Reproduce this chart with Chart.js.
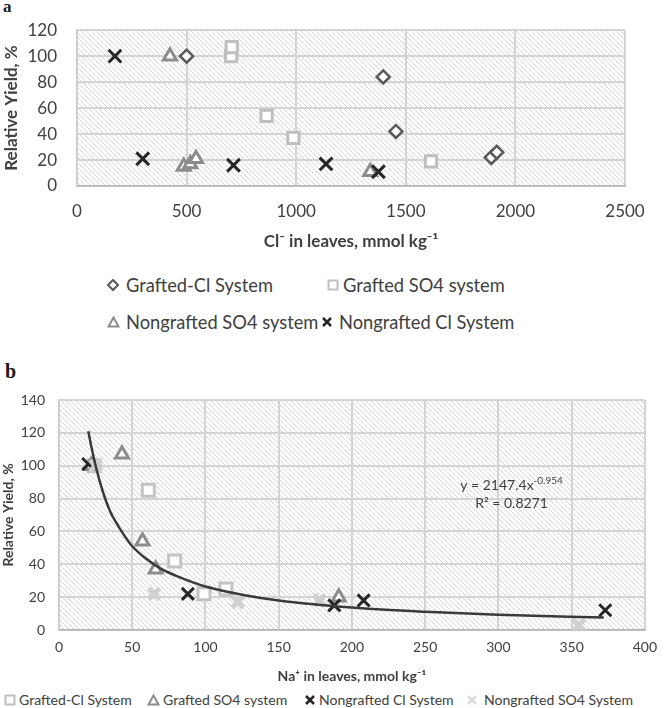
<!DOCTYPE html>
<html><head><meta charset="utf-8">
<script src="https://cdn.jsdelivr.net/npm/chart.js@4.4.0/dist/chart.umd.min.js"></script>
<style>
html,body{margin:0;padding:0;background:#fff;}
body{width:666px;height:708px;position:relative;overflow:hidden;font-family:Lato,sans-serif;}
canvas{position:absolute;left:0;}
#ca{top:0;}
#cb{top:340px;}
.lbl{position:absolute;font-family:"Liberation Serif",serif;font-weight:bold;color:#1a1a1a;line-height:1;}
.leg{position:absolute;display:flex;align-items:center;white-space:nowrap;color:#404040;font-family:Lato,sans-serif;line-height:1;}
.leg svg{flex:none;}
</style></head>
<body>
<div class="lbl" style="left:3px;top:-2px;font-size:17px;">a</div>
<canvas id="ca" width="666" height="262"></canvas>
<div id="legA"></div>
<div class="lbl" style="left:5px;top:361px;font-size:20px;">b</div>
<canvas id="cb" width="666" height="350"></canvas>
<div id="legB"></div>
<script>
// ---------- Chart a: Cl- in leaves vs relative yield ----------
const aTicksX = [0, 500, 1000, 1500, 2000, 2500];
const aTicksY = [0, 20, 40, 60, 80, 100, 120];
const aGraftedClX   = [500, 1397, 1455, 1890, 1915];
const aGraftedClY   = [100, 84, 42, 22, 26];
const aGraftedSO4X  = [703, 706, 865, 987, 1615];
const aGraftedSO4Y  = [100, 107, 54, 37, 19];
const aNongrSO4X    = [424, 487, 517, 543, 1338];
const aNongrSO4Y    = [100, 15, 17, 21, 11];
const aNongrClX     = [173, 300, 714, 1136, 1375];
const aNongrClY     = [100, 21, 16, 17, 11];

// ---------- Chart b: Na+ in leaves vs relative yield ----------
const bTicksX = [0, 50, 100, 150, 200, 250, 300, 350, 400];
const bTicksY = [0, 20, 40, 60, 80, 100, 120, 140];
const bGraftedClX   = [24, 61, 79, 99, 114];
const bGraftedClY   = [100, 85, 42, 22, 25];
const bGraftedSO4X  = [22, 43, 57, 66, 191];
const bGraftedSO4Y  = [100, 107, 54, 37, 20];
const bNongrClX     = [20, 88, 188, 208, 373];
const bNongrClY     = [101, 22, 15, 18, 12];
const bNongrSO4X    = [25, 65, 122, 178, 355];
const bNongrSO4Y    = [100, 22, 17, 18, 3];
// power trendline (y = 2147.4x^-0.954)
const bTrendX = [20, 22, 25, 30, 35, 40, 45, 50, 60, 70, 80, 100, 125, 150, 200, 250, 300, 372];
const bTrendY = [121, 112, 100, 84, 72, 64, 57, 51, 43, 37, 33, 26.5, 21.5, 18, 13.7, 11.1, 9.3, 7.6];
const bEquation = 'y = 2147.4x';
const bEquationExp = '-0.954';
const bRSquared = 'R² = 0.8271';

const legendA = ['Grafted-Cl System', 'Grafted SO4 system', 'Nongrafted SO4 system', 'Nongrafted Cl System'];
const legendB = ['Grafted-Cl System', 'Grafted SO4 system', 'Nongrafted Cl System', 'Nongrafted SO4 System'];

function pts(xs, ys){ return xs.map((x,i)=>({x:x, y:ys[i]})); }

// hatch background
function makeHatch(){
  const n=5, c=document.createElement('canvas'); c.width=n; c.height=n;
  const g=c.getContext('2d'); const id=g.createImageData(n,n);
  for(let y=0;y<n;y++)for(let x=0;x<n;x++){
    const d=(((x-y)%n)+n)%n; const i=(y*n+x)*4;
    const v = d===0 ? 218 : 255;
    id.data[i]=v;id.data[i+1]=v;id.data[i+2]=v;id.data[i+3]=255;
  }
  g.putImageData(id,0,0); return c;
}
const hatchCanvas = makeHatch();
const hatchPlugin = {
  id:'hatch',
  beforeDraw(chart){
    const {ctx, chartArea:a} = chart;
    ctx.save();
    ctx.fillStyle = ctx.createPattern(hatchCanvas,'repeat');
    ctx.fillRect(a.left, a.top, a.right-a.left, a.bottom-a.top);
    ctx.restore();
  }
};

const GRID = '#d4d4d4', TXT = '#404040';
function axis(o){
  return {
    type:'linear', min:o.min, max:o.max,
    afterBuildTicks(s){ s.ticks = o.ticks.map(v=>({value:v})); },
    ticks:{padding:o.pad, color:TXT, font:{family:'Lato', size:o.fs}, callback:v=>String(v)},
    grid:{color:GRID, lineWidth:2, drawTicks:false},
    border:{display:true, color:o.bc, width:1.5},
    title:{display:true, text:o.title, color:TXT, font:{family:'Lato', size:o.tfs, weight:'bold'}, padding:o.tpad},
    afterFit:o.fit
  };
}

Chart.defaults.font.family = 'Lato';

new Chart(document.getElementById('ca'), {
  type:'scatter',
  data:{datasets:[
    {label:legendA[3], data:pts(aNongrClX,aNongrClY), pointStyle:'crossRot', pointRadius:9, pointBorderColor:'#262626', pointBorderWidth:3, order:0},
    {label:legendA[2], data:pts(aNongrSO4X,aNongrSO4Y), pointStyle:'triangle', pointRadius:7.5, pointBorderColor:'#8c8c8c', pointBackgroundColor:'#fff', pointBorderWidth:3, order:1},
    {label:legendA[1], data:pts(aGraftedSO4X,aGraftedSO4Y), pointStyle:'rect', pointRadius:8, pointBorderColor:'#bfbfbf', pointBackgroundColor:'#fff', pointBorderWidth:3, order:2},
    {label:legendA[0], data:pts(aGraftedClX,aGraftedClY), pointStyle:'rectRot', pointRadius:6.5, pointBorderColor:'#595959', pointBackgroundColor:'#fff', pointBorderWidth:2.5, order:3}
  ]},
  options:{
    responsive:false, animation:false, devicePixelRatio:1,
    layout:{padding:{top:27, right:41, left:0, bottom:0}},
    plugins:{legend:{display:false}, tooltip:{enabled:false}},
    scales:{
      x:axis({min:0,max:2500,ticks:aTicksX,pad:15,fs:17,bc:'#b3b3b3',title:'Cl⁻ in leaves, mmol kg⁻¹',tfs:17,tpad:{top:0,bottom:10},fit:s=>{s.height=76;}}),
      y:axis({min:0,max:120,ticks:aTicksY,pad:20,fs:17,bc:'#cccccc',title:'Relative Yield, %',tfs:17,tpad:{top:1,bottom:0},fit:s=>{s.width=77;}})
    }
  },
  plugins:[hatchPlugin]
});

const eqPlugin = {
  id:'eq',
  afterDatasetsDraw(chart){
    const {ctx, scales:{x,y}} = chart;
    const cx = x.getPixelForValue(309), cy = y.getPixelForValue(88);
    ctx.save();
    ctx.fillStyle = TXT; ctx.textBaseline = 'middle'; ctx.textAlign = 'left';
    ctx.font = '14px Lato'; const w1 = ctx.measureText(bEquation).width;
    ctx.font = '10px Lato'; const w2 = ctx.measureText(bEquationExp).width;
    const x0 = cx - (w1+w2)/2;
    ctx.font = '14px Lato'; ctx.fillText(bEquation, x0, cy);
    ctx.font = '10px Lato'; ctx.fillText(bEquationExp, x0 + w1, cy - 5);
    ctx.font = '14px Lato'; ctx.textAlign = 'center'; ctx.fillText(bRSquared, cx, cy + 18);
    ctx.restore();
  }
};

new Chart(document.getElementById('cb'), {
  type:'scatter',
  data:{datasets:[
    {label:'trend', type:'line', data:pts(bTrendX,bTrendY), showLine:true, pointRadius:0, borderColor:'#3a3a3a', borderWidth:2.5, cubicInterpolationMode:'monotone', fill:false, order:0},
    {label:legendB[3], data:pts(bNongrSO4X,bNongrSO4Y), pointStyle:'crossRot', pointRadius:8, pointBorderColor:'#d0d0d0', pointBorderWidth:5, order:1},
    {label:legendB[2], data:pts(bNongrClX,bNongrClY), pointStyle:'crossRot', pointRadius:8.5, pointBorderColor:'#262626', pointBorderWidth:3, order:2},
    {label:legendB[1], data:pts(bGraftedSO4X,bGraftedSO4Y), pointStyle:'triangle', pointRadius:7.5, pointBorderColor:'#8c8c8c', pointBackgroundColor:'#fff', pointBorderWidth:3, order:3},
    {label:legendB[0], data:pts(bGraftedClX,bGraftedClY), pointStyle:'rect', pointRadius:8.5, pointBorderColor:'#c4c4c4', pointBackgroundColor:'#fff', pointBorderWidth:3, order:4}
  ]},
  options:{
    responsive:false, animation:false, devicePixelRatio:1,
    layout:{padding:{top:60, right:12, left:0, bottom:0}},
    plugins:{legend:{display:false}, tooltip:{enabled:false}},
    scales:{
      x:axis({min:0,max:400,ticks:bTicksX,pad:9,fs:14,bc:'#b3b3b3',title:'Na⁺ in leaves, mmol kg⁻¹',tfs:14,tpad:{top:0,bottom:5},fit:s=>{s.height=60;}}),
      y:axis({min:0,max:140,ticks:bTicksY,pad:14,fs:14,bc:'#cccccc',title:'Relative Yield, %',tfs:14,tpad:{top:0,bottom:0},fit:s=>{s.width=59;}})
    }
  },
  plugins:[hatchPlugin, eqPlugin]
});

// ---------- legends ----------
const M = {
  diamond:(c)=>`<svg width="12" height="12"><polygon points="6,1 11,6 6,11 1,6" fill="#fff" stroke="${c}" stroke-width="2"/></svg>`,
  square:(c)=>`<svg width="12" height="12"><rect x="1.5" y="1.5" width="9" height="9" fill="#fff" stroke="${c}" stroke-width="2"/></svg>`,
  tri:(c)=>`<svg width="13" height="12"><polygon points="6.5,1.5 11.5,10.5 1.5,10.5" fill="#fff" stroke="${c}" stroke-width="2"/></svg>`,
  cross:(c,w)=>`<svg width="12" height="12"><path d="M2,2 L10,10 M10,2 L2,10" stroke="${c}" stroke-width="${w||2.5}" fill="none"/></svg>`
};
function fitSize(text, target){
  const g=document.createElement('canvas').getContext('2d');
  g.font='100px Lato'; return 100*target/g.measureText(text).width;
}
function legend(host, items, fs){
  host.innerHTML = items.map(it=>`<div class="leg" style="left:${it.x}px;top:${it.y-8}px;height:16px;font-size:${fs}px;">${it.m}<span style="margin-left:${it.g}px">${it.t}</span></div>`).join('');
}
const fsA = fitSize(legendA[0], 147);
legend(document.getElementById('legA'), [
  {x:107, y:285, m:M.diamond('#595959'), t:legendA[0], g:7},
  {x:327, y:285, m:M.square('#bfbfbf'), t:legendA[1], g:4},
  {x:107, y:322, m:M.tri('#8c8c8c'), t:legendA[2], g:6},
  {x:321, y:322, m:M.cross('#262626'), t:legendA[3], g:6}
], fsA);
const fsB = fitSize(legendB[0], 113);
legend(document.getElementById('legB'), [
  {x:4, y:700, m:M.square('#bfbfbf'), t:legendB[0], g:3},
  {x:147, y:700, m:M.tri('#8c8c8c'), t:legendB[1], g:3},
  {x:304, y:700, m:M.cross('#262626'), t:legendB[2], g:3},
  {x:466, y:700, m:M.cross('#dcdcdc',2.5), t:legendB[3], g:6}
], fsB);
</script>
</body></html>
